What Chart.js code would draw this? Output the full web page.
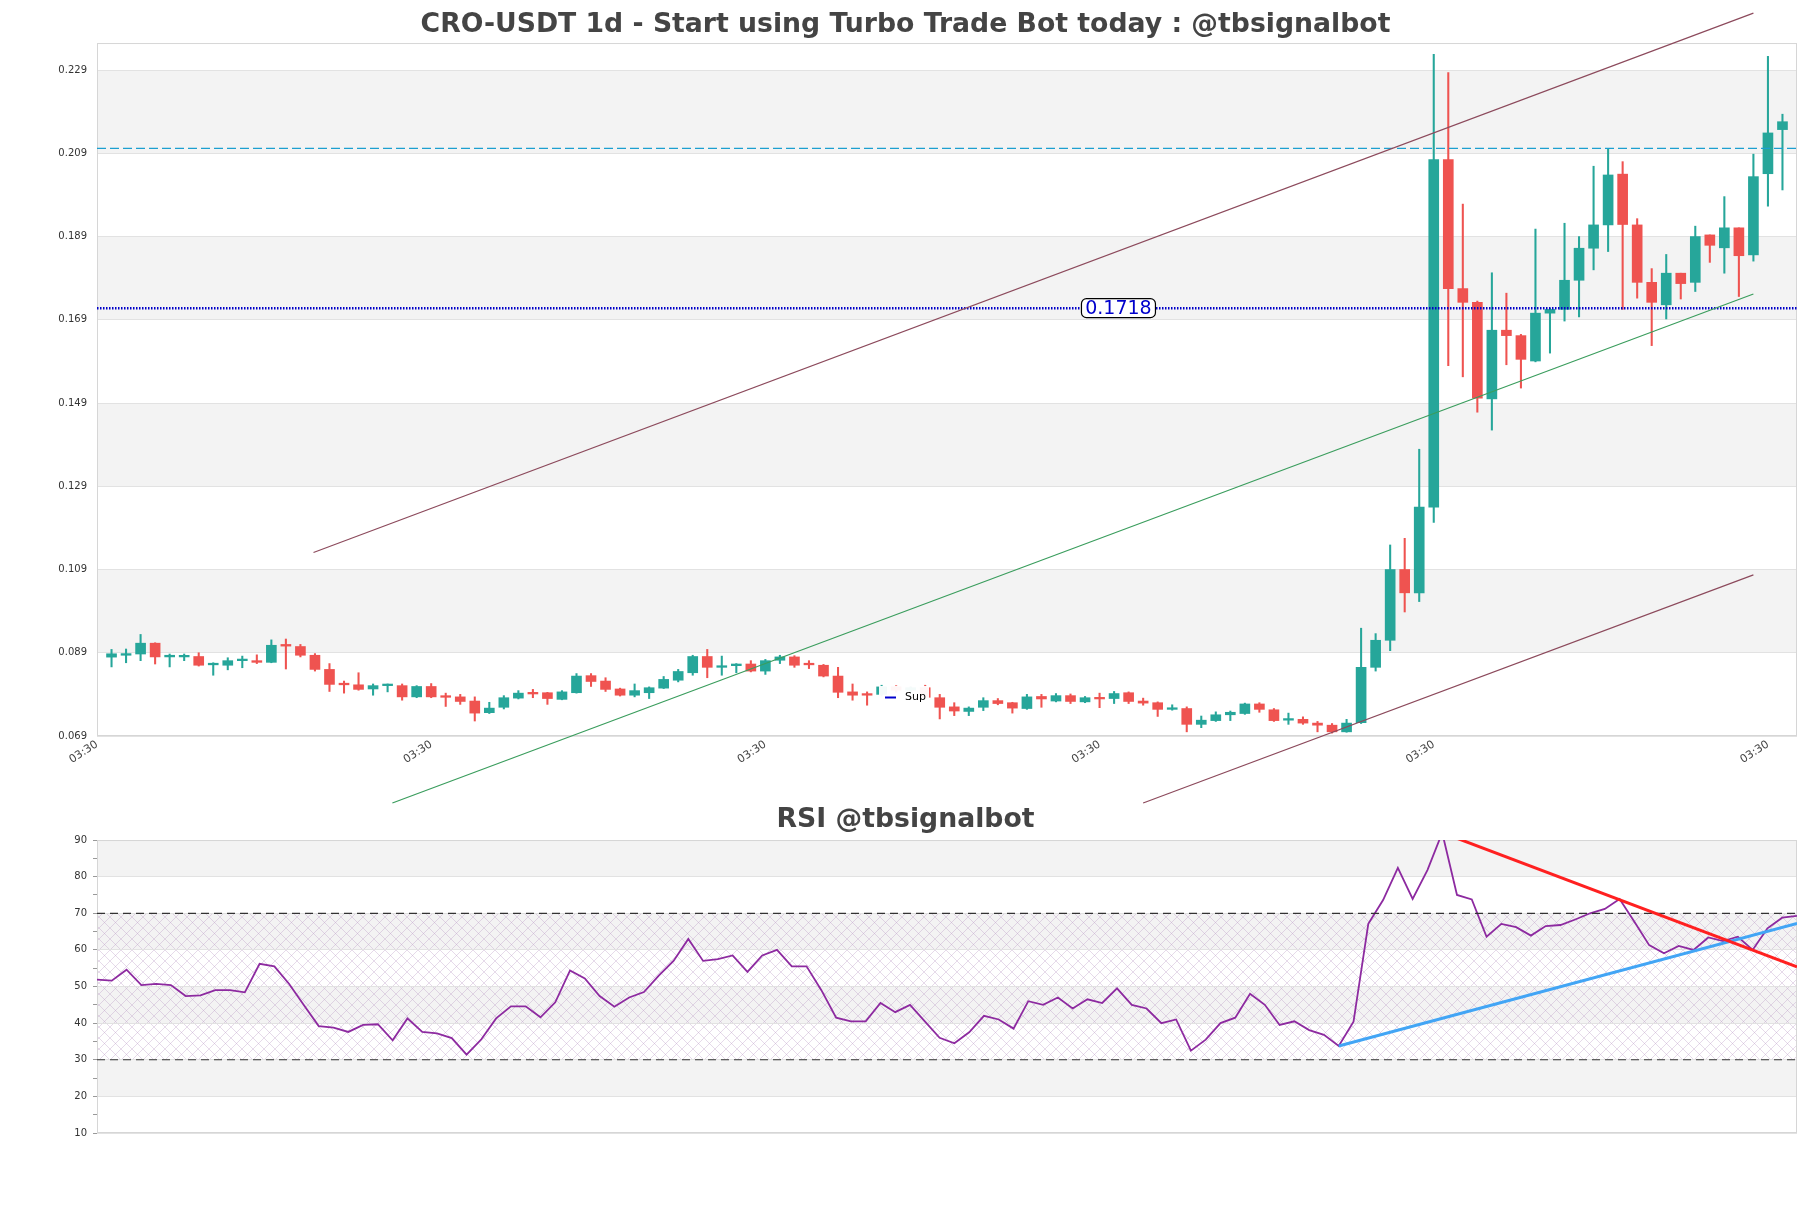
<!DOCTYPE html>
<html>
<head>
<meta charset="utf-8">
<script src="https://cdn.jsdelivr.net/npm/chart.js@4.4.1/dist/chart.umd.min.js"></script>
<style>
  html, body { margin: 0; padding: 0; background: #fff; }
  #wrap { position: relative; width: 1811px; height: 1208px; overflow: hidden; background: #fff; }
  #price { position: absolute; left: 0; top: 0; }
  #rsi { position: absolute; left: 0; top: 796px; }
</style>
</head>
<body>
<div id="wrap">
  <canvas id="price" width="1811" height="812"></canvas>
  <canvas id="rsi" width="1811" height="412"></canvas>
</div>
<script>
// daily candles
const opens = [
  0.08795, 0.0884, 0.0887, 0.0913, 0.0880, 0.0880, 0.0881, 0.0861, 0.0860, 0.0871,
  0.0871, 0.0867, 0.0910, 0.0905, 0.0884, 0.0850, 0.0815, 0.0813, 0.0803, 0.0811,
  0.0811, 0.0784, 0.0809, 0.0786, 0.0784, 0.0774, 0.0746, 0.0759, 0.0781, 0.0794,
  0.0794, 0.0778, 0.0794, 0.0835, 0.0822, 0.0803, 0.0788, 0.0794, 0.0805, 0.0824,
  0.0842, 0.0881, 0.0855, 0.0859, 0.0863, 0.0846, 0.0872, 0.0880, 0.0863, 0.0860,
  0.0834, 0.0796, 0.0790, 0.0790, 0.0808, 0.0800, 0.0806, 0.0782, 0.0760, 0.0749,
  0.0759, 0.0775, 0.0770, 0.0756, 0.0785, 0.0774, 0.0787, 0.0772, 0.0782, 0.0780,
  0.0794, 0.0774, 0.0770, 0.0754, 0.0756, 0.0718, 0.0727, 0.0741, 0.0744, 0.0767,
  0.0753, 0.0728, 0.0730, 0.0721, 0.0716, 0.0700, 0.0722, 0.0855, 0.0920, 0.1090,
  0.1034, 0.1240, 0.2075, 0.1765, 0.1732, 0.1500, 0.1665, 0.1652, 0.1591, 0.1706,
  0.1715, 0.1785, 0.1862, 0.1918, 0.2040, 0.1918, 0.1780, 0.1726, 0.1802, 0.1780,
  0.1894, 0.1863, 0.1911, 0.1846, 0.2041, 0.2147
];
const highs = [
  0.0898, 0.0899, 0.0934, 0.0914, 0.0887, 0.0887, 0.0890, 0.0866, 0.0878, 0.0882,
  0.0885, 0.0921, 0.0923, 0.0910, 0.0888, 0.0864, 0.0822, 0.0842, 0.0815, 0.0815,
  0.0815, 0.0811, 0.0816, 0.0793, 0.0790, 0.0784, 0.0771, 0.0787, 0.0799, 0.0802,
  0.0795, 0.0799, 0.0840, 0.0840, 0.0830, 0.0805, 0.0815, 0.0808, 0.0833, 0.0850,
  0.0884, 0.0898, 0.0882, 0.0864, 0.0871, 0.0874, 0.0884, 0.0883, 0.0871, 0.0862,
  0.0855, 0.0815, 0.0796, 0.0812, 0.0811, 0.0808, 0.0812, 0.0790, 0.0770, 0.0760,
  0.0782, 0.0780, 0.0771, 0.0790, 0.0790, 0.0792, 0.0791, 0.0785, 0.0793, 0.0797,
  0.0796, 0.0781, 0.0772, 0.0765, 0.0760, 0.0738, 0.0748, 0.0750, 0.0769, 0.0770,
  0.0756, 0.0745, 0.0736, 0.0725, 0.0720, 0.0730, 0.0949, 0.0936, 0.1149, 0.1165,
  0.1379, 0.2328, 0.2284, 0.1968, 0.1735, 0.1803, 0.1754, 0.1655, 0.1908, 0.1718,
  0.1922, 0.1890, 0.2059, 0.2101, 0.2070, 0.1933, 0.1813, 0.1847, 0.1802, 0.1915,
  0.1894, 0.1986, 0.1911, 0.2088, 0.2323, 0.2184
];
const lows = [
  0.0856, 0.0866, 0.0871, 0.0863, 0.0856, 0.0871, 0.0858, 0.0836, 0.0849, 0.0854,
  0.0864, 0.0866, 0.0851, 0.0880, 0.0846, 0.0797, 0.0793, 0.0800, 0.0788, 0.0796,
  0.0776, 0.0782, 0.0782, 0.0761, 0.0766, 0.0726, 0.0744, 0.0755, 0.0779, 0.0782,
  0.0766, 0.0777, 0.0793, 0.0809, 0.0797, 0.0786, 0.0784, 0.0780, 0.0804, 0.0820,
  0.0836, 0.0830, 0.0836, 0.0842, 0.0844, 0.0838, 0.0864, 0.0855, 0.0852, 0.0832,
  0.0782, 0.0776, 0.0764, 0.0786, 0.0795, 0.0795, 0.0780, 0.0731, 0.0739, 0.0739,
  0.0751, 0.0765, 0.0745, 0.0754, 0.0759, 0.0772, 0.0768, 0.0770, 0.0758, 0.0768,
  0.0768, 0.0764, 0.0737, 0.0752, 0.0700, 0.0710, 0.0725, 0.0727, 0.0742, 0.0747,
  0.0725, 0.0718, 0.0718, 0.0700, 0.0697, 0.0699, 0.0720, 0.0846, 0.0895, 0.0988,
  0.1013, 0.1203, 0.1580, 0.1553, 0.1468, 0.1425, 0.1582, 0.1526, 0.1589, 0.1610,
  0.1687, 0.1697, 0.1810, 0.1854, 0.1715, 0.1742, 0.1628, 0.1692, 0.1740, 0.1758,
  0.1828, 0.1802, 0.1746, 0.1831, 0.1963, 0.2002
];
const closes = [
  0.08876, 0.0888, 0.0913, 0.0880, 0.0884, 0.0883, 0.0860, 0.0864, 0.0871, 0.0872,
  0.0867, 0.0908, 0.0906, 0.0884, 0.0850, 0.0814, 0.0813, 0.0802, 0.0811, 0.0813,
  0.0784, 0.0809, 0.0784, 0.0783, 0.0773, 0.0745, 0.0757, 0.0782, 0.0793, 0.0791,
  0.0780, 0.0796, 0.0834, 0.0821, 0.0802, 0.0788, 0.0799, 0.0806, 0.0826, 0.0845,
  0.0881, 0.0855, 0.0857, 0.0863, 0.0846, 0.0871, 0.0880, 0.0860, 0.0861, 0.0834,
  0.0795, 0.0788, 0.0788, 0.0808, 0.0800, 0.0806, 0.0783, 0.0759, 0.0750, 0.0757,
  0.0775, 0.0768, 0.0757, 0.0784, 0.0779, 0.0787, 0.0773, 0.0782, 0.0779, 0.0792,
  0.0773, 0.0769, 0.0754, 0.0757, 0.0718, 0.0728, 0.0741, 0.0747, 0.0767, 0.0754,
  0.0727, 0.0731, 0.0721, 0.0716, 0.0700, 0.0721, 0.0855, 0.0920, 0.1090, 0.1034,
  0.1240, 0.2075, 0.1765, 0.1732, 0.1502, 0.1665, 0.1652, 0.1595, 0.1706, 0.1715,
  0.1785, 0.1862, 0.1918, 0.2038, 0.1919, 0.1780, 0.1732, 0.1802, 0.1777, 0.1890,
  0.1869, 0.1911, 0.1844, 0.2034, 0.2139, 0.2166
];

// rsi under the candles, same index
const rsiValues = [
  51.9, 51.6, 54.6, 50.4, 50.7, 50.4, 47.4, 47.6, 49.0, 49.0,
  48.4, 56.2, 55.5, 50.7, 44.9, 39.2, 38.8, 37.6, 39.5, 39.7,
  35.3, 41.3, 37.6, 37.2, 35.9, 31.4, 35.6, 41.3, 44.6, 44.6,
  41.6, 45.7, 54.4, 52.2, 47.4, 44.5, 47.0, 48.5, 53.0, 57.0,
  63.0, 57.0, 57.5, 58.5, 54.0, 58.5, 60.0, 55.5, 55.5, 49.0,
  41.5, 40.5, 40.5, 45.5, 43.0, 45.0, 40.5, 36.0, 34.5, 37.5,
  42.0, 41.0, 38.5, 46.0, 45.0, 47.0, 44.0, 46.5, 45.5, 49.5,
  45.0, 44.0, 40.0, 41.0, 32.5, 35.5, 40.0, 41.5, 48.0, 45.0,
  39.5, 40.5, 38.1, 36.8, 33.75, 40.4, 67.1, 73.6, 82.4, 73.9,
  81.8, 92.0, 75.0, 73.8, 63.6, 67.1, 66.2, 63.9, 66.5, 66.8,
  68.3, 70.0, 71.2, 73.9, 67.7, 61.3, 59.1, 61.1, 60.0, 63.4,
  62.4, 63.6, 60.0, 65.9, 68.8, 69.3
];

const priceTicks = [0.069, 0.089, 0.109, 0.129, 0.149, 0.169, 0.189, 0.209, 0.229];
const xTickPos = [-1, 22, 45, 68, 91, 114];
const xTickLabels = ["03:30", "03:30", "03:30", "03:30", "03:30", "03:30"];

// channel lines [index, price]
const upperChannel = [[13.9, 0.1131], [113, 0.2427]];
const lowerChannel = [[71.0, 0.0529], [113, 0.1077]];
const midChannel = [[19.33, 0.0529], [113, 0.1752]];
const resistLevel = 0.2102;
const supLevel = 0.1718;

// rsi trend lines [index, rsi]
const rsiDownTrend = [[91, 92], [115, 55.4]];
const rsiUpTrend = [[84, 33.75], [115, 67.25]];
const rsiLevels = [70, 30];

const UP = "#26a69a", DOWN = "#ef5350";
Chart.defaults.font.family = "'DejaVu Sans', sans-serif";
Chart.defaults.animation = false;

function pts(arr) {
  return arr.map(function (p) { return { x: p[0], y: p[1] }; });
}

// empty strip on the right so the title stays centred on the whole figure
const rightGap = {
  position: "right",
  display: true,
  grid: { display: false },
  border: { display: false },
  ticks: { display: false },
  afterFit: function (s) { s.width = 14; }
};

// gray bands behind the grid
function bandPlugin(id, bands, hatch) {
  return {
    id: id,
    beforeDraw(chart) {
      const ctx = chart.ctx, a = chart.chartArea, y = chart.scales.y;
      ctx.save();
      ctx.fillStyle = "#f3f3f3";
      bands.forEach(function (b) {
        const y1 = y.getPixelForValue(b[1]), y0 = y.getPixelForValue(b[0]);
        ctx.fillRect(a.left, y1, a.right - a.left, y0 - y1);
      });
      if (hatch) {
        const pc = document.createElement("canvas");
        pc.width = 11; pc.height = 11;
        const p = pc.getContext("2d");
        p.strokeStyle = "rgba(185,150,195,0.45)";
        p.lineWidth = 0.8;
        p.beginPath();
        p.moveTo(0, 0); p.lineTo(11, 11);
        p.moveTo(0, 11); p.lineTo(11, 0);
        p.stroke();
        ctx.fillStyle = ctx.createPattern(pc, "repeat");
        const t = y.getPixelForValue(hatch[1]), b = y.getPixelForValue(hatch[0]);
        ctx.fillRect(a.left, t, a.right - a.left, b - t);
      }
      ctx.restore();
    },
    beforeDatasetsDraw(chart) {
      const ctx = chart.ctx, a = chart.chartArea;
      ctx.save();
      ctx.strokeStyle = "#d6d6d6";
      ctx.lineWidth = 1;
      ctx.strokeRect(a.left + 0.5, a.top + 0.5, a.right - a.left - 1, a.bottom - a.top - 1);
      ctx.restore();
    }
  };
}

const priceExtras = {
  id: "priceExtras",
  afterDatasetsDraw(chart) {
    const ctx = chart.ctx, a = chart.chartArea;
    const xs = chart.scales.x, ys = chart.scales.y;
    ctx.save();
    // level label
    const cx = xs.getPixelForValue(69.3), cy = ys.getPixelForValue(supLevel);
    const w = 74, h = 19;
    ctx.beginPath();
    ctx.roundRect(cx - w / 2, cy - h / 2, w, h, 5);
    ctx.fillStyle = "#fff";
    ctx.fill();
    ctx.strokeStyle = "#000";
    ctx.lineWidth = 1.2;
    ctx.stroke();
    ctx.fillStyle = "#0000cc";
    ctx.font = "19px 'DejaVu Sans'";
    ctx.textAlign = "center";
    ctx.textBaseline = "middle";
    ctx.fillText(supLevel.toFixed(4), cx, cy + 1);
    // legend box
    const lx = a.left + 782, ly = a.bottom - 50;
    ctx.fillStyle = "rgba(255,255,255,0.95)";
    ctx.fillRect(lx, ly, 50, 23);
    ctx.strokeStyle = "#0000cc";
    ctx.lineWidth = 2;
    ctx.beginPath();
    ctx.moveTo(lx + 6, ly + 11.5);
    ctx.lineTo(lx + 17, ly + 11.5);
    ctx.stroke();
    ctx.fillStyle = "#000";
    ctx.font = "11px 'DejaVu Sans'";
    ctx.textAlign = "left";
    ctx.fillText("Sup", lx + 26, ly + 11.5);
    ctx.restore();
  }
};

const idx = closes.map(function (c, i) { return i; });
const candleColors = closes.map(function (c, i) { return c >= opens[i] ? UP : DOWN; });

new Chart(document.getElementById("price"), {
  type: "bar",
  data: {
    datasets: [
      {
        label: "wick",
        data: idx.map(function (i) { return { x: i, y: [lows[i], highs[i]] }; }),
        backgroundColor: candleColors,
        barThickness: 1.4,
        grouped: false,
        order: 5
      },
      {
        label: "body",
        data: idx.map(function (i) { return { x: i, y: [opens[i], closes[i]] }; }),
        backgroundColor: candleColors,
        barThickness: 10,
        minBarLength: 1.6,
        grouped: false,
        order: 4
      },
      {
        type: "line", label: "upper", data: pts(upperChannel),
        borderColor: "#8c4a5c", borderWidth: 1.2, pointRadius: 0, clip: false, order: 1
      },
      {
        type: "line", label: "lower", data: pts(lowerChannel),
        borderColor: "#8c4a5c", borderWidth: 1.2, pointRadius: 0, clip: false, order: 1
      },
      {
        type: "line", label: "mid", data: pts(midChannel),
        borderColor: "#3a9d5d", borderWidth: 1.2, pointRadius: 0, clip: false, order: 1
      },
      {
        type: "line", label: "res", data: [{ x: -1, y: resistLevel }, { x: 116, y: resistLevel }],
        borderColor: "#1c9fd0", borderWidth: 1.2, borderDash: [9, 4], pointRadius: 0, order: 1
      },
      {
        type: "line", label: "Sup", data: [{ x: -1, y: supLevel }, { x: 116, y: supLevel }],
        borderColor: "#0000c8", borderWidth: 2.5, borderDash: [1.5, 1.5], pointRadius: 0, order: 1
      }
    ]
  },
  options: {
    responsive: false,
    events: [],
    layout: { padding: 0 },
    plugins: {
      legend: { display: false },
      tooltip: { enabled: false },
      title: {
        display: true,
        text: "CRO-USDT 1d - Start using Turbo Trade Bot today : @tbsignalbot",
        color: "#444",
        font: { size: 26.7, weight: "bold" },
        padding: { top: 9.5, bottom: 1.5 }
      }
    },
    scales: {
      x: {
        type: "linear",
        min: -1,
        max: 116,
        offset: false,
        afterBuildTicks: function (s) { s.ticks = xTickPos.map(function (v) { return { value: v }; }); },
        afterFit: function (s) { s.height = 76; },
        grid: { display: false, offset: false },
        border: { display: false },
        ticks: {
          autoSkip: false,
          maxRotation: 33,
          minRotation: 33,
          color: "#444",
          font: { size: 11 },
          padding: -6,
          callback: function (v, i) { return xTickLabels[i]; }
        }
      },
      y: {
        type: "linear",
        min: 0.069,
        max: 0.2355,
        afterBuildTicks: function (s) { s.ticks = priceTicks.map(function (v) { return { value: v }; }); },
        afterFit: function (s) { s.width = 97; },
        grid: { color: "#e2e2e2", drawTicks: false },
        border: { display: false },
        ticks: {
          color: "#333",
          font: { size: 10 },
          padding: 10,
          callback: function (v) { return v.toFixed(3); }
        }
      },
      yr: rightGap
    }
  },
  plugins: [bandPlugin("priceBands", [[0.089, 0.109], [0.129, 0.149], [0.169, 0.189], [0.209, 0.229]], null), priceExtras]
});

new Chart(document.getElementById("rsi"), {
  type: "line",
  data: {
    datasets: [
      {
        label: "RSI",
        data: rsiValues.map(function (v, i) { return { x: i, y: v }; }),
        borderColor: "#8d2aa0", borderWidth: 1.8, pointRadius: 0, order: 3
      },
      {
        label: "down", data: pts(rsiDownTrend),
        borderColor: "#ff2020", borderWidth: 3, pointRadius: 0, order: 1
      },
      {
        label: "up", data: pts(rsiUpTrend),
        borderColor: "#42a5f5", borderWidth: 3, pointRadius: 0, order: 1
      },
      {
        label: "ob", data: [{ x: 0, y: rsiLevels[0] }, { x: 115, y: rsiLevels[0] }],
        borderColor: "#333", borderWidth: 1.2, borderDash: [8, 5], pointRadius: 0, order: 2
      },
      {
        label: "os", data: [{ x: 0, y: rsiLevels[1] }, { x: 115, y: rsiLevels[1] }],
        borderColor: "#333", borderWidth: 1.2, borderDash: [8, 5], pointRadius: 0, order: 2
      }
    ]
  },
  options: {
    responsive: false,
    events: [],
    layout: { padding: { left: 0, right: 0, top: 0, bottom: 75 } },
    plugins: {
      legend: { display: false },
      tooltip: { enabled: false },
      title: {
        display: true,
        text: "RSI @tbsignalbot",
        color: "#444",
        font: { size: 26.7, weight: "bold" },
        padding: { top: 8, bottom: 4 }
      }
    },
    scales: {
      x: { type: "linear", min: 0, max: 115, display: false },
      y: {
        min: 10,
        max: 90,
        afterFit: function (s) { s.width = 97; },
        border: { display: false },
        grid: {
          color: function (c) { return c.tick && c.tick.value % 10 === 0 ? "#e2e2e2" : "rgba(0,0,0,0)"; },
          tickColor: "#999",
          tickLength: 4
        },
        ticks: {
          stepSize: 5,
          color: "#333",
          font: { size: 10 },
          padding: 6,
          callback: function (v) { return v % 10 === 0 ? String(v) : ""; }
        }
      },
      yr: rightGap
    }
  },
  plugins: [bandPlugin("rsiBands", [[20, 30], [40, 50], [60, 70], [80, 90]], [30, 70])]
});
</script>
</body>
</html>
